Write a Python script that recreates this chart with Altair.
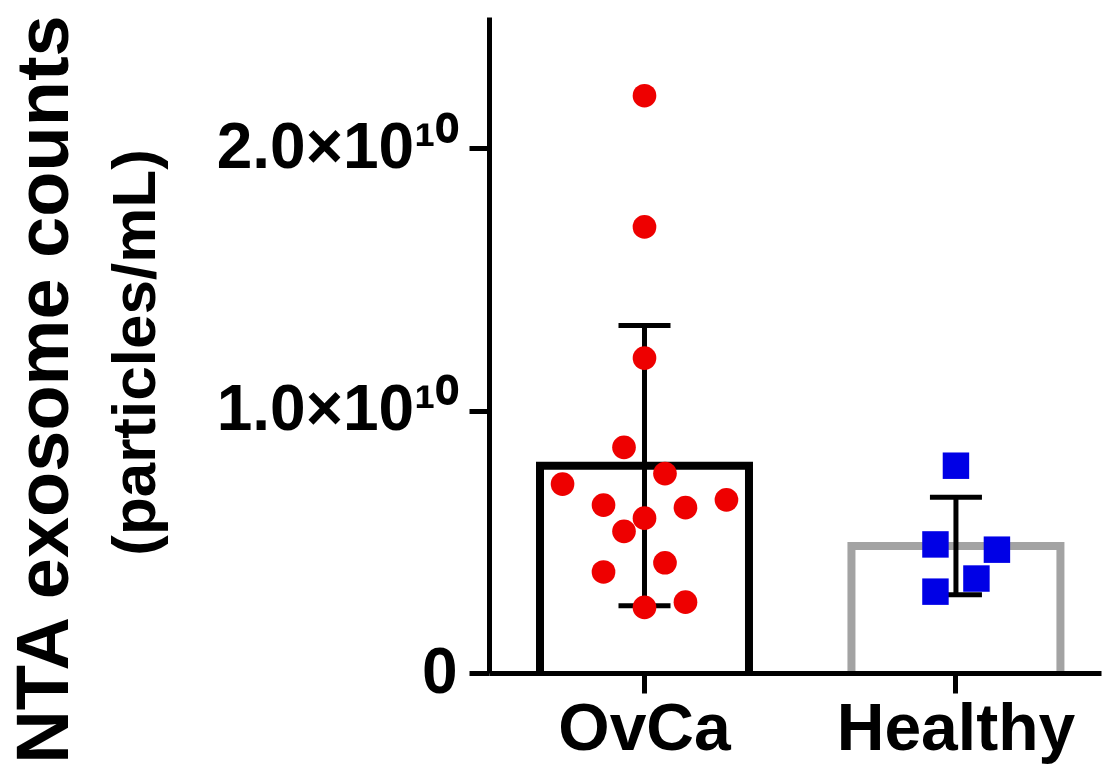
import altair as alt
import pandas as pd

# ---- data ----
groups = ["OvCa", "Healthy"]
group_means = [0.790e10, 0.484e10]
group_sd = [0.534e10, 0.186e10]
bar_colors = ["#000000", "#a3a3a3"]
point_colors = ["#ee0000", "#0000e6"]
point_shapes = ["circle", "square"]

ovca_values = [2.20e10, 1.70e10, 1.20e10, 0.86e10, 0.76e10, 0.72e10, 0.66e10,
               0.64e10, 0.63e10, 0.59e10, 0.54e10, 0.42e10, 0.385e10, 0.27e10, 0.25e10]
ovca_slots = [0, 0, 0, -1, 1, -4, 4, -2, 2, 0, -1, 1, -2, 2, 0]
healthy_values = [0.79e10, 0.49e10, 0.47e10, 0.36e10, 0.31e10]
healthy_slots = [0, -1, 2, 1, -1]

y_ticks = [0, 1e10, 2e10]
y_title_1 = "NTA exosome counts"
y_title_2 = "(particles/mL)"

# ---- tables ----
summary = pd.DataFrame({
    "group": groups,
    "mean": group_means,
    "low": [m - s for m, s in zip(group_means, group_sd)],
    "high": [m + s for m, s in zip(group_means, group_sd)],
})
points = pd.DataFrame({
    "group": ["OvCa"] * len(ovca_values) + ["Healthy"] * len(healthy_values),
    "value": ovca_values + healthy_values,
    "slot": ovca_slots + healthy_slots,
})

FONT = "Liberation Sans"

x_enc = alt.X(
    "group:N",
    sort=groups,
    scale=alt.Scale(domain=groups, paddingInner=0.329, paddingOuter=0.147, align=0.557),
    axis=alt.Axis(
        title=None, labelAngle=0, labelFont=FONT, labelFontSize=66, labelFontWeight="bold",
        labelColor="black", labelPadding=4, labelLimit=0, tickSize=20, tickWidth=5,
        tickColor="black", domainWidth=5, domainColor="black", zindex=1,
    ),
)

y_scale = alt.Scale(domain=[0, 2.5e10], nice=False, zero=True)
y_axis = alt.Axis(
    values=y_ticks,
    labelExpr="datum.value == 0 ? '0' : format(datum.value / 1e10, '.1f') + '×10¹⁰'",
    labelFont=FONT, labelFontSize=64, labelFontWeight="bold", labelColor="black",
    labelPadding=12, labelLimit=0, tickSize=20, tickWidth=5, tickColor="black",
    domainWidth=5, domainColor="black", grid=False, zindex=1,
    title=y_title_2, titleFont=FONT, titleFontSize=62,
    titleFontWeight="bold", titleColor="black", titleX=-322, titleY=335,
)

# bars: baseline sits just below zero so the clipped bottom edge hides under the axis
bars = alt.Chart(summary).mark_bar(
    fill="white", strokeWidth=8, clip=True, width=alt.RelativeBandSize(1.0)
).encode(
    x=x_enc,
    y=alt.Y("mean:Q", scale=y_scale, axis=y_axis),
    y2=alt.datum(-0.02e10),
    stroke=alt.Stroke("group:N", scale=alt.Scale(domain=groups, range=bar_colors), legend=None),
)

err = alt.Chart(summary).mark_rule(strokeWidth=5, color="black").encode(
    x=alt.X("group:N", sort=groups),
    y=alt.Y("low:Q"),
    y2="high:Q",
)
cap_low = alt.Chart(summary).mark_tick(thickness=5, size=52, color="black", opacity=1).encode(
    x=alt.X("group:N", sort=groups), y=alt.Y("low:Q")
)
cap_high = alt.Chart(summary).mark_tick(thickness=5, size=52, color="black", opacity=1).encode(
    x=alt.X("group:N", sort=groups), y=alt.Y("high:Q")
)

dots = alt.Chart(points).mark_point(filled=True, opacity=1, strokeWidth=0).encode(
    x=alt.X("group:N", sort=groups),
    xOffset=alt.XOffset("slot:Q", scale=alt.Scale(domain=[-5.1, 5.1])),
    y=alt.Y("value:Q"),
    color=alt.Color("group:N", scale=alt.Scale(domain=groups, range=point_colors), legend=None),
    shape=alt.Shape("group:N", scale=alt.Scale(domain=groups, range=point_shapes), legend=None),
    size=alt.Size("group:N", scale=alt.Scale(domain=groups, range=[560, 700]), legend=None),
)

chart = alt.layer(bars, err, cap_low, cap_high, dots).resolve_scale(
    xOffset="independent"
).properties(
    width=612,
    height=656,
    padding={"left": 489, "top": 17, "right": 7, "bottom": 97},
    autosize=alt.AutoSizeParams(type="none"),
    background="white",
    title=alt.TitleParams(
        y_title_1, orient="left", anchor="middle", frame="bounds",
        font=FONT, fontSize=74, fontWeight="bold", color="black", offset=20,
    ),
).configure_view(stroke=None)

chart.save("out.html", embed_options={"renderer": "svg", "actions": False})
